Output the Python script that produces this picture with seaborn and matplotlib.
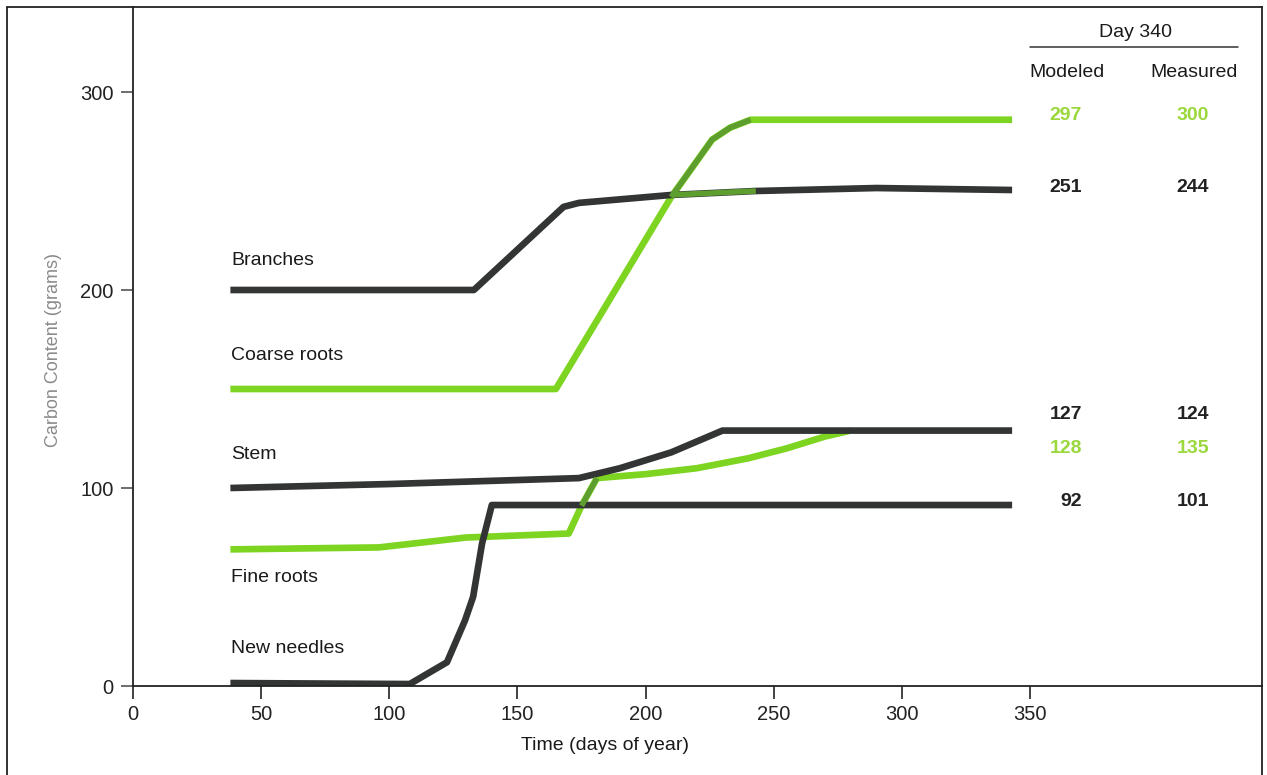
import matplotlib.pyplot as plt
import matplotlib.lines as mlines
import numpy as np
import pandas as pd
import seaborn as sns

# series (day of year, grams of carbon)
branches_day = [38, 133, 168, 174, 210, 243, 290, 343]
branches_c = [200, 200, 242, 244, 248, 250, 251.5, 250.5]

coarse_day = [38, 165, 210, 226, 233, 241, 343]
coarse_c = [150, 150, 247, 276, 282, 286, 286]

stem_day = [38, 100, 174, 190, 210, 230, 343]
stem_c = [100, 102, 105, 110, 118, 129, 129]

fine_day = [38, 96, 130, 170, 175, 181, 200, 220, 240, 255, 270, 280]
fine_c = [69, 70, 75, 77, 91, 105, 107, 110, 115, 120, 126, 129]

needles_day = [38, 108, 122.5, 129.5, 132.7, 136.2, 140, 343]
needles_c = [1.5, 1, 12, 33, 45, 72, 91.4, 91.4]

series_names = ['Branches', 'Coarse roots', 'Stem', 'Fine roots', 'New needles']
label_y = [215, 167, 117, 55, 19]

# day 340 table
table_modeled = ['297', '251', '127', '128', '92']
table_measured = ['300', '244', '124', '135', '101']
table_row_y = [288, 252, 137, 120, 93.4]
table_green = [True, False, False, True, False]

DARK = '#333535'
GREEN = '#7dd421'
DKGREEN = '#5e9e2f'
TXTGREEN = '#9ad83c'
FS = 14

sns.set_style('ticks')
plt.rcParams['font.family'] = ['Liberation Sans', 'DejaVu Sans']

fig = plt.figure(figsize=(12.67, 7.75), dpi=100)
W, H = 1267, 775
ax = fig.add_axes([133 / W, (H - 686) / H, (1262 - 133) / W, (686 - 7) / H])

lw = 4.8
data = [
    (branches_day, branches_c, DARK),
    (coarse_day, coarse_c, GREEN),
    (stem_day, stem_c, DARK),
    (fine_day, fine_c, GREEN),
    (needles_day, needles_c, DARK),
]
for (d, c, col) in [data[3], data[1], data[0], data[2], data[4]]:
    df = pd.DataFrame({'day': d, 'carbon': c})
    sns.lineplot(data=df, x='day', y='carbon', color=col, lw=lw, ax=ax,
                 sort=False, estimator=None, solid_capstyle='butt',
                 solid_joinstyle='round')


def overlay(days, vals, lo, hi):
    d = np.array(days, dtype=float)
    v = np.array(vals, dtype=float)
    m = (d >= lo) & (d <= hi)
    sns.lineplot(x=d[m], y=v[m], color=DKGREEN, lw=lw - 0.8, ax=ax,
                 sort=False, estimator=None, solid_capstyle='butt')


# darker green pieces where the curves cross
overlay(coarse_day, coarse_c, 210, 241)
overlay(branches_day, branches_c, 210, 243)
overlay(fine_day, fine_c, 174, 181)

for name, (d, c, col), ly in zip(series_names, data, label_y):
    ax.text(d[0] + 0.2, ly, name, fontsize=FS, color='#1a1a1a',
            ha='left', va='center')

# table on the right
ax.text(391, 330.3, 'Day 340', fontsize=FS, ha='center', va='center', color='#1a1a1a')
ax.plot([350, 431], [322.7, 322.7], color='#333333', lw=1.1)
ax.text(364.4, 310, 'Modeled', fontsize=FS, ha='center', va='center', color='#1a1a1a')
ax.text(414, 310, 'Measured', fontsize=FS, ha='center', va='center', color='#1a1a1a')
for mod, mea, ry, g in zip(table_modeled, table_measured, table_row_y, table_green):
    col = TXTGREEN if g else '#222222'
    ax.text(370.3, ry, mod, fontsize=FS, fontweight='bold', color=col,
            ha='right', va='center')
    ax.text(413.6, ry, mea, fontsize=FS, fontweight='bold', color=col,
            ha='center', va='center')

ax.set_xlim(0, (1262 - 133) / 2.563)
ax.set_ylim(0, (686 - 7) / 1.98)
ax.set_xticks([0, 50, 100, 150, 200, 250, 300, 350])
ax.set_yticks([0, 100, 200, 300])
ax.tick_params(axis='both', direction='out', length=9, width=1.2,
               labelsize=14.5, colors='#222222', pad=5)
ax.tick_params(axis='y', colors='#555555', labelcolor='#222222')
for sp in ax.spines.values():
    sp.set_color('#222222')
    sp.set_linewidth(1.3)

ax.set_xlabel('Time (days of year)', fontsize=FS, color='#1a1a1a')
ax.xaxis.set_label_coords(0.418, -0.075)
ax.set_ylabel('Carbon Content (grams)', fontsize=13, color='#8a8a8a')
ax.yaxis.set_label_coords(-0.063, 0.495)

# outer frame (left and top edges outside the axes)
fig.add_artist(mlines.Line2D([7 / W, 7 / W], [0, 1 - 7 / H], color='#222222', lw=1.3))
fig.add_artist(mlines.Line2D([7 / W, 133 / W], [1 - 7 / H, 1 - 7 / H], color='#222222', lw=1.3))
fig.add_artist(mlines.Line2D([1262 / W, 1262 / W], [0, (H - 686) / H], color='#222222', lw=1.3))

fig.savefig('out.png', dpi=100)
